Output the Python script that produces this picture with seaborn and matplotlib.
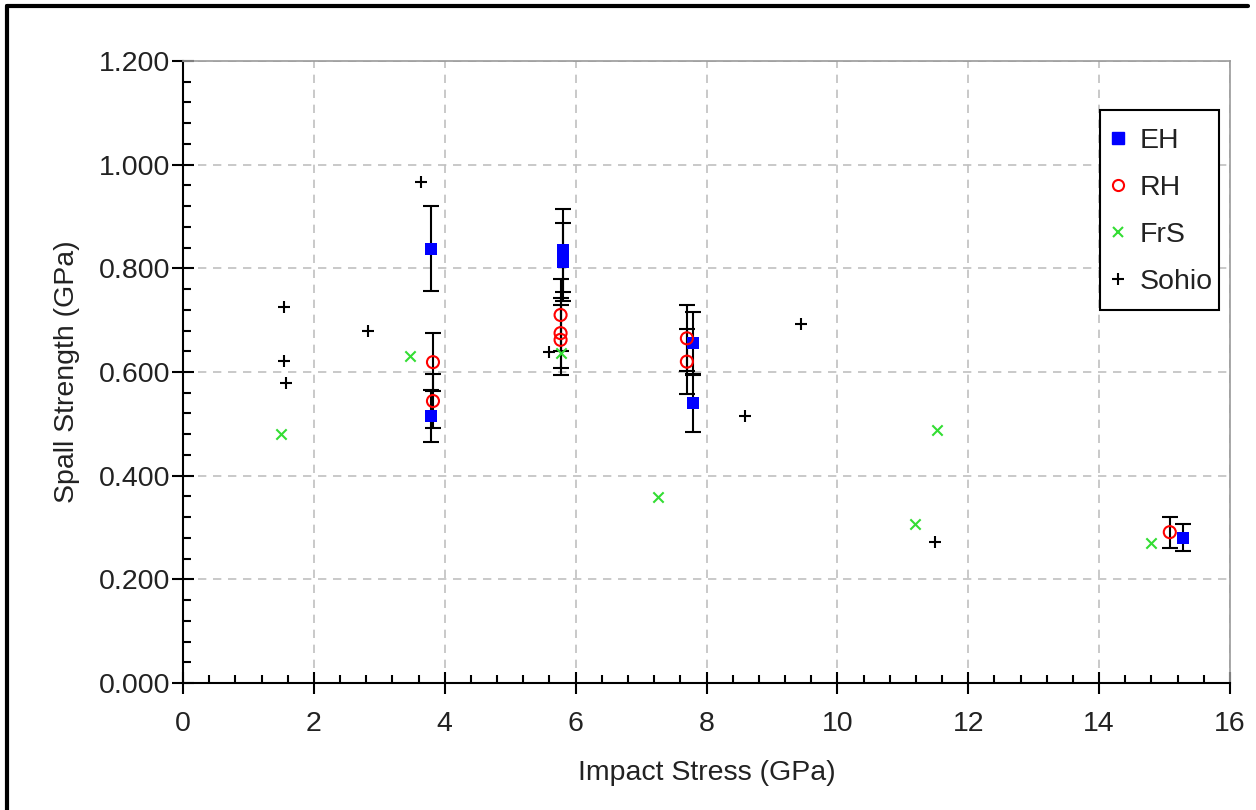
import numpy as np
import pandas as pd
import seaborn as sns
import matplotlib.pyplot as plt
from matplotlib.lines import Line2D
from matplotlib.patches import Rectangle
from matplotlib.ticker import MultipleLocator, FormatStrFormatter

# values
eh_x = [3.79, 3.79, 5.80, 5.80, 7.80, 7.80, 15.28]
eh_y = [0.838, 0.515, 0.835, 0.812, 0.655, 0.540, 0.280]
eh_err = [0.082, 0.050, 0.080, 0.075, 0.061, 0.056, 0.026]

rh_x = [3.82, 3.82, 5.77, 5.77, 5.77, 7.70, 7.70, 15.08]
rh_y = [0.619, 0.544, 0.710, 0.675, 0.662, 0.665, 0.620, 0.291]
rh_err = [0.056, 0.053, 0.070, 0.068, 0.068, 0.064, 0.063, 0.030]

frs_x = [1.50, 3.47, 5.78, 7.26, 11.19, 11.52, 14.80]
frs_y = [0.480, 0.631, 0.637, 0.359, 0.307, 0.488, 0.270]

sohio_x = [1.54, 1.55, 1.58, 2.83, 3.64, 5.60, 8.59, 9.44, 11.49]
sohio_y = [0.725, 0.621, 0.579, 0.679, 0.967, 0.639, 0.515, 0.693, 0.272]

sns.set_style('white')
plt.rcParams['font.family'] = ['Liberation Sans', 'DejaVu Sans']
FS = 20.5
TXT = '#222222'

fig = plt.figure(figsize=(12.56, 8.10), dpi=100, facecolor='white')
ax = fig.add_axes([183 / 1256, 127 / 810, 1047 / 1256, 622 / 810])

# error bars first, markers on top
ax.errorbar(eh_x, eh_y, yerr=eh_err, fmt='none', ecolor='black',
            elinewidth=1.5, capsize=6, capthick=1.5, zorder=2)
ax.errorbar(rh_x, rh_y, yerr=rh_err, fmt='none', ecolor='black',
            elinewidth=1.5, capsize=6, capthick=1.5, zorder=2)

sns.scatterplot(x=eh_x, y=eh_y, ax=ax, marker='s', s=80, color='#0000ff',
                edgecolor='#0000ff', linewidth=0, zorder=3)
sns.scatterplot(x=rh_x, y=rh_y, ax=ax, marker='o', s=75, facecolor='none',
                edgecolor='#ff0000', linewidth=1.5, zorder=4)
sns.scatterplot(x=frs_x, y=frs_y, ax=ax, marker='x', s=55, color='#33dd33',
                linewidth=1.5, zorder=3)
sns.scatterplot(x=sohio_x, y=sohio_y, ax=ax, marker='+', s=70, color='black',
                linewidth=1.5, zorder=3)

ax.set_xlim(0, 16)
ax.set_ylim(0, 1.2)
ax.xaxis.set_major_locator(MultipleLocator(2))
ax.xaxis.set_minor_locator(MultipleLocator(0.4))
ax.yaxis.set_major_locator(MultipleLocator(0.2))
ax.yaxis.set_minor_locator(MultipleLocator(0.04))
ax.yaxis.set_major_formatter(FormatStrFormatter('%.3f'))

ax.grid(True, which='major', color='#c0c0c0', linestyle=(0, (5, 4)), linewidth=1.2)
ax.set_axisbelow(True)

for side in ['left', 'bottom']:
    ax.spines[side].set_color('black')
    ax.spines[side].set_linewidth(1.5)
for side in ['top', 'right']:
    ax.spines[side].set_color('#999999')
    ax.spines[side].set_linewidth(1.2)

ax.tick_params(axis='x', which='both', bottom=True, top=False)
ax.tick_params(axis='y', which='both', left=True, right=False)
ax.tick_params(which='major', direction='inout', length=16, width=1.5,
               color='black', labelsize=FS, labelcolor=TXT, pad=1)
ax.tick_params(which='minor', direction='in', length=6, width=1.5, color='black')
ax.tick_params(axis='x', which='major', pad=12)

ax.set_xlabel('Impact Stress (GPa)', fontsize=FS, color=TXT, labelpad=17)
ax.set_ylabel('Spall Strength (GPa)', fontsize=FS, color=TXT, labelpad=14)

handles = [
    Line2D([], [], linestyle='none', marker='s', markersize=8,
           markerfacecolor='#0000ff', markeredgecolor='#0000ff'),
    Line2D([], [], linestyle='none', marker='o', markersize=8,
           markerfacecolor='none', markeredgecolor='#ff0000', markeredgewidth=1.5),
    Line2D([], [], linestyle='none', marker='x', markersize=7,
           color='#33dd33', markeredgewidth=1.5),
    Line2D([], [], linestyle='none', marker='+', markersize=8,
           color='black', markeredgewidth=1.5),
]
leg = ax.legend(handles, ['EH', 'RH', 'FrS', 'Sohio'], loc='upper left',
                bbox_to_anchor=((1109.5 - 183) / 1047, (683 - 128) / 622),
                borderaxespad=0, borderpad=0, frameon=False,
                fontsize=FS, labelspacing=0.74, handlelength=0.6,
                handletextpad=0.45)
for t in leg.get_texts():
    t.set_color(TXT)
leg.set_zorder(6)

# legend box
ax.add_patch(Rectangle(((1100 - 183) / 1047, (683 - 310) / 622),
                       119 / 1047, 200 / 622, transform=ax.transAxes,
                       facecolor='white', edgecolor='black', linewidth=1.5,
                       zorder=5))

# screenshot border on the left and top
fig.add_artist(Line2D([7 / 1256, 7 / 1256], [0, 804 / 810], color='black', lw=3))
fig.add_artist(Line2D([7 / 1256, 1248 / 1256], [804 / 810, 804 / 810], color='black', lw=3))

fig.savefig('out.png', dpi=100, facecolor='white')
